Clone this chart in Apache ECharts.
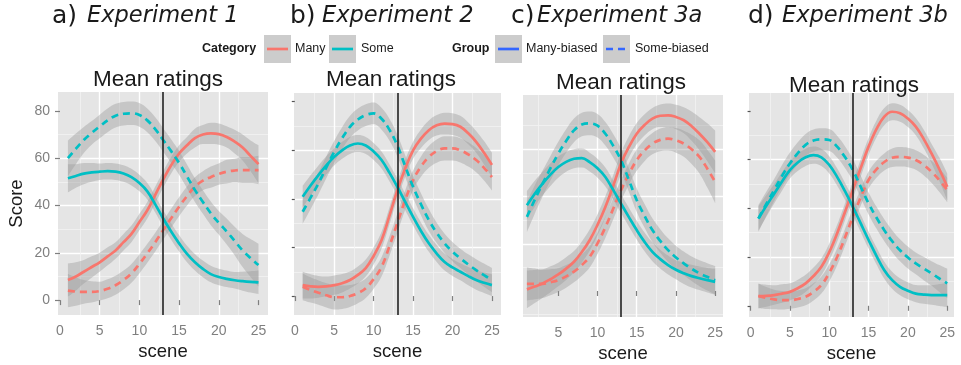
<!DOCTYPE html>
<html>
<head>
<meta charset="utf-8">
<script src="https://cdn.jsdelivr.net/npm/echarts@6/dist/echarts.min.js"></script>
<style>
  html, body { margin: 0; padding: 0; background: #ffffff; }
  #chart { width: 961px; height: 365px; }
</style>
</head>
<body>
<div id="chart"></div>
<script>
// Scenes at which the smoothed curves are sampled
const scene = [1, 2, 3, 4, 5, 6, 7, 8, 9, 10, 11, 12, 13, 14, 15, 16, 17, 18, 19, 20, 21, 22, 23, 24, 25];
// Scene where the manipulation switches
const cutScene = 13;

const yTickValues = [0, 20, 40, 60, 80];
const xTickValues = [0, 5, 10, 15, 20, 25];
const xTickValuesExp3a = [5, 10, 15, 20, 25];

const panelLetters = ['a)', 'b)', 'c)', 'd)'];
const panelNames = ['Experiment 1', 'Experiment 2', 'Experiment 3a', 'Experiment 3b'];
const plotTitle = 'Mean ratings';

// Experiment 1: smoothed mean score (MB = many-biased group, SB = some-biased group)
const exp1ManyMB = [8.5, 10, 12, 14, 16, 18.5, 21, 24.5, 28, 33, 38, 44.5, 51, 57, 62, 65.5, 68.5, 70, 70.5, 70.2, 69, 67, 64.5, 61, 57.5];
const exp1ManySB = [4, 3.6, 3.5, 3.5, 3.8, 4.8, 6.3, 8.5, 11.3, 15.3, 19.8, 24.5, 29.6, 34.6, 39.5, 44, 48, 50.5, 52, 53.3, 54.3, 54.8, 55, 55, 55];
const exp1SomeMB = [51.5, 52.5, 53.5, 54, 54.3, 54.5, 54.3, 53.5, 52, 49.5, 46, 40.5, 34.5, 29, 24, 19.5, 16, 13.2, 11, 9.8, 9, 8.4, 8, 7.7, 7.5];
const exp1SomeSB = [60, 64, 67.7, 70.7, 73.4, 76, 78, 78.8, 79, 78.3, 76, 72.3, 67.7, 63, 58, 52.3, 46.5, 41.5, 36.7, 32.7, 29, 25, 21, 17.8, 14.8];
// half-width of the confidence band
const exp1ManyMBse = [7, 6, 5, 4.5, 4, 3.8, 3.5, 3.5, 3.5, 3.5, 3.5, 3.5, 3.5, 3.5, 3.5, 3.5, 4, 4, 4.5, 4.5, 4.5, 5, 5.5, 6.5, 8];
const exp1ManySBse = [7, 6, 5, 4.5, 4, 4, 4, 4, 4, 4, 4, 4, 4, 4, 4, 4, 4, 4, 4.5, 4.5, 5, 5, 5.5, 5.5, 6];
const exp1SomeMBse = [6, 5, 4.5, 4, 3.5, 3.5, 3.5, 3.5, 3.5, 3.5, 3.5, 3.5, 3.5, 3.5, 3.5, 3.5, 3.5, 3.5, 3.5, 3.5, 3.5, 3.5, 4, 4.5, 5];
const exp1SomeSBse = [7.5, 6.5, 5.5, 5, 5, 5, 5, 5, 5, 5, 5, 5, 5, 5, 5, 5, 5, 5, 5, 5, 5.5, 6, 7, 8, 9];

// Experiment 2
const exp2ManyMB = [4.5, 4, 3.8, 4, 4.5, 5.3, 6.6, 8.7, 11.5, 16.5, 23, 33, 43.5, 52.5, 60, 64.8, 68.3, 70.3, 71, 70.8, 69.7, 67, 63.5, 59, 54];
const exp2ManySB = [3.8, 2.5, 1.4, 0.3, -0.5, -0.5, 0, 1.2, 3.2, 7, 12, 20.5, 30, 39.5, 47.7, 53.3, 57.3, 59.7, 60.8, 60.8, 60, 58.3, 56, 52.8, 49];
const exp2SomeMB = [40.9, 45.5, 49.8, 53.8, 57.3, 60, 62, 62.8, 62, 59.5, 56, 50.8, 45, 38.8, 32.6, 26.8, 21.7, 17.5, 14, 11.8, 10, 8.2, 6.6, 5.5, 4.5];
const exp2SomeSB = [34.7, 40.5, 46.4, 53, 59.4, 65, 69.7, 72.7, 74.5, 75.2, 73, 68.5, 62, 53.5, 45, 37.8, 31.3, 26, 21.7, 18.3, 15.5, 13, 10.7, 8.6, 6.6];
const exp2ManyMBse = [5.5, 5, 4.5, 4, 4, 3.8, 3.5, 3.5, 3.5, 3.5, 3.5, 3.5, 3.5, 3.5, 3.5, 3.8, 4, 4.2, 4.5, 4.5, 4.5, 4.5, 4.5, 4.8, 5];
const exp2ManySBse = [5.5, 5.2, 5, 5, 5, 4.8, 4.5, 4.2, 4, 4, 4, 4, 4, 4, 4, 4.2, 4.5, 4.8, 5, 5, 5, 5, 5, 5.2, 5.5];
const exp2SomeMBse = [4.5, 4.2, 4, 3.8, 3.5, 3.5, 3.5, 3.5, 3.5, 3.5, 3.5, 3.5, 3.5, 3.5, 3.5, 3.5, 3.5, 3.5, 3.5, 3.5, 3.5, 3.8, 4, 4.2, 4.5];
const exp2SomeSBse = [5, 4.8, 4.5, 4.5, 4.5, 4.5, 4.5, 4.5, 4.5, 4.5, 4.5, 4.5, 4.5, 4.5, 4.5, 4.5, 4.5, 4.2, 4, 4, 4, 4.2, 4.5, 4.8, 5];

// Experiment 3a
const exp3aManyMB = [0.7, 1.9, 3.2, 5, 7, 9.5, 12.4, 16.5, 21.5, 28, 35.6, 44.5, 54, 61, 66.6, 70.3, 73, 74.2, 74.4, 73.7, 72.3, 69.8, 66.6, 63, 58.9];
const exp3aManySB = [3, 3, 3, 3.7, 4.6, 6.2, 8.2, 11, 14.5, 20.2, 27, 34.8, 42.7, 49.5, 55.4, 59.5, 62.4, 64, 64.5, 63.8, 62.4, 60, 56.8, 51.8, 46.2];
const exp3aSomeMB = [36.3, 41.2, 45.5, 49.3, 52.5, 54.7, 56, 56.3, 54.6, 52, 48.3, 42.8, 37, 31.3, 25.8, 20.8, 16.6, 13.5, 11, 9, 7.5, 6.3, 5.4, 4.6, 3.9];
const exp3aSomeSB = [31.4, 38.7, 45.5, 52, 58.2, 63.5, 68, 70.5, 71, 70, 66.6, 61.5, 55.4, 47, 38.5, 31.8, 25.8, 21.2, 17.3, 14.2, 11.7, 9.4, 7.5, 6, 4.6];
const exp3aManyMBse = [8, 7, 6, 5.5, 5, 4.8, 4.5, 4.5, 4.5, 4.5, 4.5, 4.5, 4.5, 4.5, 4.5, 4.5, 4.5, 4.8, 5, 5.2, 5.5, 6.2, 7, 8, 9];
const exp3aManySBse = [7, 6.5, 6, 5.5, 5, 4.8, 4.5, 4.5, 4.5, 4.5, 4.5, 4.5, 4.5, 4.5, 4.5, 4.5, 4.5, 4.8, 5, 5.2, 5.5, 6.2, 7, 8, 9];
const exp3aSomeMBse = [6, 5.5, 5, 4.8, 4.5, 4.2, 4, 4, 4, 4, 4, 4, 4, 4, 4, 4, 4, 4, 4, 4, 4.5, 4.8, 5, 5.2, 5.5];
const exp3aSomeSBse = [6.5, 6, 5.5, 5.2, 5, 5, 5, 5, 5, 5, 5, 5, 5, 5, 5, 5, 5, 5, 5, 5, 5, 5.2, 5.5, 5.8, 6];

// Experiment 3b
const exp3bManyMB = [4, 4.1, 4.4, 5, 5.7, 7.2, 9.2, 12.2, 16, 22, 29.7, 38.5, 47.5, 56.5, 65.3, 72.5, 77.6, 79.6, 79, 76.8, 73.5, 68.5, 62.5, 56, 48.8];
const exp3bManySB = [4, 3.2, 2.6, 2.3, 2.3, 2.8, 3.7, 5.7, 8.5, 13.5, 20, 28, 36.5, 44.5, 51.6, 56, 59, 60.7, 61.1, 60.8, 59.8, 57.8, 55, 51.5, 47.5];
const exp3bSomeMB = [35.8, 41, 46, 51, 55.7, 58.8, 60.9, 61.8, 60.9, 57.8, 52.9, 47, 40.6, 33.8, 27, 20.5, 14.6, 10.5, 7.8, 6.2, 5, 4.6, 4.4, 4.4, 4.4];
const exp3bSomeSB = [35.8, 41.8, 47.5, 53.3, 58.4, 62.6, 66, 67.8, 68.3, 68, 65.3, 61, 55.7, 48.8, 42, 36.2, 31, 26.5, 22.8, 19.8, 17.4, 15.3, 13.3, 11.2, 9.2];
const exp3bManyMBse = [5, 4.5, 4, 3.8, 3.5, 3.5, 3.5, 3.5, 3.5, 3.5, 3.5, 3.5, 3.5, 3.5, 3.5, 3.5, 3.5, 3.5, 3.5, 3.5, 3.5, 3.8, 4, 4.8, 5.5];
const exp3bManySBse = [5, 4.5, 4, 3.8, 3.5, 3.5, 3.5, 3.5, 3.5, 3.5, 3.5, 3.5, 3.5, 3.5, 3.5, 3.5, 3.5, 3.8, 4, 4, 4, 4.2, 4.5, 4.8, 5];
const exp3bSomeMBse = [5, 4.5, 4, 3.8, 3.5, 3.5, 3.5, 3.5, 3.5, 3.5, 3.5, 3.5, 3.5, 3.5, 3.5, 3.5, 3.5, 3.5, 3.5, 3.5, 3.5, 3.8, 4, 4.5, 5];
const exp3bSomeSBse = [5.5, 5, 4.5, 4.5, 4.5, 4.5, 4.5, 4.5, 4.5, 4.5, 4.5, 4.5, 4.5, 4.5, 4.5, 4.5, 4.5, 4.5, 4.5, 4.5, 4.5, 4.8, 5, 5.5, 6];

const categoryColors = { Many: '#F8766D', Some: '#00BFC4' };
const groupColor = '#3366FF';
const dashPattern = [7, 5];
const bandFill = 'rgba(153,153,153,0.4)';
const sansFont = 'Liberation Sans, Arial, sans-serif';
const titleFont = 'DejaVu Sans, sans-serif';
const smoothness = 0.4;

const experiments = [
  { curves: [
      { cat: 'Many', dashed: false, fit: exp1ManyMB, se: exp1ManyMBse },
      { cat: 'Many', dashed: true, fit: exp1ManySB, se: exp1ManySBse },
      { cat: 'Some', dashed: false, fit: exp1SomeMB, se: exp1SomeMBse },
      { cat: 'Some', dashed: true, fit: exp1SomeSB, se: exp1SomeSBse } ] },
  { curves: [
      { cat: 'Many', dashed: false, fit: exp2ManyMB, se: exp2ManyMBse },
      { cat: 'Many', dashed: true, fit: exp2ManySB, se: exp2ManySBse },
      { cat: 'Some', dashed: false, fit: exp2SomeMB, se: exp2SomeMBse },
      { cat: 'Some', dashed: true, fit: exp2SomeSB, se: exp2SomeSBse } ] },
  { curves: [
      { cat: 'Many', dashed: false, fit: exp3aManyMB, se: exp3aManyMBse },
      { cat: 'Many', dashed: true, fit: exp3aManySB, se: exp3aManySBse },
      { cat: 'Some', dashed: false, fit: exp3aSomeMB, se: exp3aSomeMBse },
      { cat: 'Some', dashed: true, fit: exp3aSomeSB, se: exp3aSomeSBse } ] },
  { curves: [
      { cat: 'Many', dashed: false, fit: exp3bManyMB, se: exp3bManyMBse },
      { cat: 'Many', dashed: true, fit: exp3bManySB, se: exp3bManySBse },
      { cat: 'Some', dashed: false, fit: exp3bSomeMB, se: exp3bSomeMBse },
      { cat: 'Some', dashed: true, fit: exp3bSomeSB, se: exp3bSomeSBse } ] }
];

// Panel layout: plot rectangles, axis extents and y-axis decoration
const layout = [
  { grid: { left: 58, top: 92, width: 210, height: 223 }, x: [-0.25, 26.2], y: [-6.3, 88], yMode: 'labels', xTicks: xTickValues,
    letterX: 52, nameX: 87, subX: 158, subY: 80 },
  { grid: { left: 294, top: 93, width: 207, height: 222 }, x: [-0.1, 26.15], y: [-7.8, 83.6], yMode: 'ticks', xTicks: xTickValues,
    letterX: 290, nameX: 322, subX: 391, subY: 80 },
  { grid: { left: 523, top: 95, width: 200, height: 222 }, x: [0.5, 26.0], y: [-11, 83], yMode: 'none', xTicks: xTickValuesExp3a,
    letterX: 511, nameX: 537, subX: 621, subY: 83 },
  { grid: { left: 749, top: 93, width: 205, height: 224 }, x: [-0.2, 25.86], y: [-4.6, 87.3], yMode: 'ticks', xTicks: xTickValues,
    letterX: 748, nameX: 782, subX: 854, subY: 86 }
];

const grids = layout.map(p => Object.assign({
  show: true, backgroundColor: '#E5E5E5', borderWidth: 0, containLabel: false, outerBoundsMode: 'none'
}, p.grid));

const majorGrid = { show: true, showMinLine: false, showMaxLine: false, lineStyle: { color: '#ffffff', width: 1.4 } };
const minorGrid = { show: true, lineStyle: { color: '#F2F2F2', width: 0.8 } };

const xAxes = layout.map((p, i) => ({
  type: 'value', gridIndex: i, min: p.x[0], max: p.x[1],
  axisLine: { show: false },
  axisTick: { show: true, length: 5, customValues: p.xTicks, lineStyle: { color: '#7F7F7F', width: 1.2 } },
  axisLabel: { customValues: p.xTicks, color: '#7F7F7F', fontSize: 14, fontFamily: sansFont, margin: 9 },
  splitLine: majorGrid,
  minorTick: { show: false, splitNumber: 2 },
  minorSplitLine: minorGrid,
  name: 'scene', nameLocation: 'middle', nameGap: 27,
  nameTextStyle: { fontSize: 18.5, color: '#1A1A1A', fontFamily: sansFont }
}));

const yAxes = layout.map((p, i) => ({
  type: 'value', gridIndex: i, min: p.y[0], max: p.y[1],
  axisLine: { show: false },
  axisTick: {
    show: p.yMode !== 'none', length: p.yMode === 'labels' ? 5 : 3, customValues: yTickValues,
    lineStyle: { color: p.yMode === 'labels' ? '#7F7F7F' : '#555555', width: 1.2 }
  },
  axisLabel: { show: p.yMode === 'labels', customValues: yTickValues, color: '#7F7F7F', fontSize: 14, fontFamily: sansFont, margin: 8 },
  splitLine: majorGrid,
  minorTick: { show: false, splitNumber: 2 },
  minorSplitLine: minorGrid,
  name: p.yMode === 'labels' ? 'Score' : '', nameLocation: 'middle', nameGap: 32,
  nameTextStyle: { fontSize: 18.5, color: '#1A1A1A', fontFamily: sansFont }
}));

const series = [];
experiments.forEach((exp, i) => {
  // Confidence bands: the lower edge, with the band width stacked on it.
  // Rows are [score, scene] so that the stack runs along the score dimension.
  exp.curves.forEach((c, k) => {
    const stackId = 'band-' + i + '-' + k;
    const common = {
      type: 'line', xAxisIndex: i, yAxisIndex: i, stack: stackId, stackStrategy: 'all',
      encode: { x: 1, y: 0 }, symbol: 'none', smooth: smoothness, silent: true, z: 1,
      lineStyle: { width: 0, opacity: 0 }
    };
    series.push(Object.assign({}, common, {
      data: scene.map((x, j) => [c.fit[j] - c.se[j], x])
    }));
    series.push(Object.assign({}, common, {
      data: scene.map((x, j) => [2 * c.se[j], x]),
      areaStyle: { color: bandFill, opacity: 1 }
    }));
  });
  // Fitted curves
  exp.curves.forEach((c, k) => {
    const s = {
      type: 'line', xAxisIndex: i, yAxisIndex: i,
      name: c.cat + (c.dashed ? ' Some-biased' : ' Many-biased'),
      data: scene.map((x, j) => [x, c.fit[j]]),
      symbol: 'none', smooth: smoothness, silent: true, z: 3,
      lineStyle: { color: categoryColors[c.cat], width: 2.7, type: c.dashed ? dashPattern : 'solid' }
    };
    if (k === 0) {
      s.markLine = {
        silent: true, symbol: ['none', 'none'], label: { show: false },
        lineStyle: { color: '#222222', width: 1.6, type: 'solid' },
        data: [{ xAxis: cutScene }]
      };
    }
    series.push(s);
  });
});

// Titles, subtitles and the shared legend
const graphics = [];
layout.forEach((p, i) => {
  graphics.push({ type: 'text', x: p.letterX, y: 16, style: {
    text: panelLetters[i], font: 'normal 25px ' + titleFont, fill: '#1A1A1A', textVerticalAlign: 'middle' } });
  graphics.push({ type: 'text', x: p.nameX, y: 16, style: {
    text: panelNames[i], font: 'italic 22.5px ' + titleFont, fill: '#1A1A1A', textVerticalAlign: 'middle' } });
  graphics.push({ type: 'text', x: p.subX, y: p.subY, style: {
    text: plotTitle, font: 'normal 22.5px ' + sansFont, fill: '#1A1A1A', textAlign: 'center', textVerticalAlign: 'middle' } });
});

const legendY = 49;
function legendKey(x, color, dashed) {
  graphics.push({ type: 'rect', shape: { x: x, y: 35, width: 27, height: 28 }, style: { fill: '#CCCCCC' } });
  graphics.push({ type: 'line', shape: { x1: x + 3, y1: legendY, x2: x + 24, y2: legendY },
    style: { stroke: color, lineWidth: 2.7, lineDash: dashed ? dashPattern : null } });
}
function legendText(x, text, bold) {
  graphics.push({ type: 'text', x: x, y: legendY, style: {
    text: text, font: (bold ? 'bold ' : 'normal ') + '12.5px ' + sansFont, fill: '#1A1A1A', textVerticalAlign: 'middle' } });
}
legendText(202, 'Category', true);
legendKey(264, categoryColors.Many, false);
legendText(295, 'Many', false);
legendKey(329, categoryColors.Some, false);
legendText(361, 'Some', false);
legendText(452, 'Group', true);
legendKey(495, groupColor, false);
legendText(526, 'Many-biased', false);
legendKey(603, groupColor, true);
legendText(635, 'Some-biased', false);

const chart = echarts.init(document.getElementById('chart'), null, { renderer: 'canvas' });
chart.setOption({
  animation: false,
  backgroundColor: '#ffffff',
  grid: grids,
  xAxis: xAxes,
  yAxis: yAxes,
  series: series,
  graphic: graphics
});
</script>
</body>
</html>
